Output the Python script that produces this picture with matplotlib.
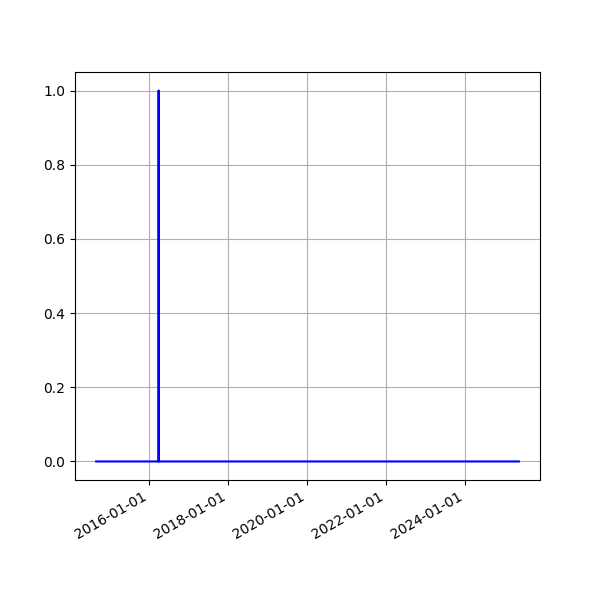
import numpy as np
import matplotlib
matplotlib.use("Agg")
import matplotlib.pyplot as plt
import matplotlib.dates as mdates

dates = np.array(["2014-09-01", "2016-03-31", "2016-04-01", "2016-04-02", "2025-05-15"],
                 dtype="datetime64[D]")
values = [0, 0, 1, 0, 0]

fig, ax = plt.subplots(figsize=(6, 6), dpi=100)
ax.plot(dates, values, c='b', lw=1.5)
ax.grid(True)
ax.xaxis.set_major_locator(mdates.YearLocator(2))
ax.xaxis.set_major_formatter(mdates.DateFormatter('%Y-%m-%d'))
fig.autofmt_xdate()
plt.savefig("out.png")
